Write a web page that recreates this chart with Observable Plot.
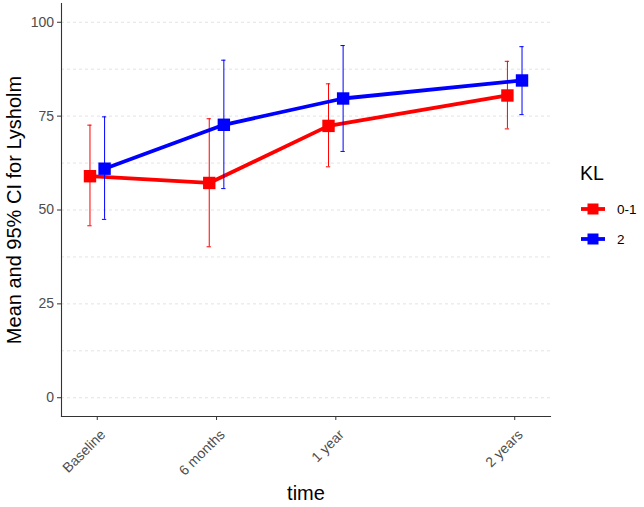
<!DOCTYPE html>
<html><head><meta charset="utf-8">
<script src="https://cdn.jsdelivr.net/npm/d3@7"></script>
<script src="https://cdn.jsdelivr.net/npm/@observablehq/plot@0.6"></script>
<style>
body{margin:0;background:#fff;font-family:"Liberation Sans",Arial,sans-serif;}
#wrap{position:relative;width:644px;height:507px;}
#legend{position:absolute;left:580px;top:162px;color:#000;}
#legend .title{font-size:19.5px;margin-bottom:9px;}
#legend .item{display:flex;align-items:center;height:30px;font-size:13.5px;}
#legend .item svg{margin-right:11px;}
</style></head><body>
<div id="wrap"><div id="chart"></div><div id="legend"></div></div>
<script>
const timeLabels = ["Baseline", "6 months", "1 year", "2 years"];
const timeIndex = [0, 1, 2, 3.5];
const groups = ["0-1", "2"];
const colors = ["#FF0000", "#0000FF"];
const mean01 = [59.0, 57.2, 72.4, 80.5];
const lo01 = [45.8, 40.2, 61.5, 71.6];
const hi01 = [72.6, 74.3, 83.6, 89.6];
const mean2 = [61.0, 72.7, 79.7, 84.5];
const lo2 = [47.5, 55.7, 65.6, 75.4];
const hi2 = [74.8, 89.9, 93.8, 93.5];
const yTicks = [0, 25, 50, 75, 100];
const yGrid = [0, 12.5, 25, 37.5, 50, 62.5, 75, 87.5, 100];

const series = [
  {key: groups[0], color: colors[0], mean: mean01, lo: lo01, hi: hi01, dx: -7.3},
  {key: groups[1], color: colors[1], mean: mean2, lo: lo2, hi: hi2, dx: 7.3}
];
const cap = 0.018;

const marks = [
  Plot.gridY(yGrid, {stroke: "#dcdcdc", strokeOpacity: 1, strokeDasharray: "3,3", strokeWidth: 0.8})
];
for (const s of series) {
  const rows = timeIndex.map((t, i) => ({t, label: timeLabels[i], mean: s.mean[i], lo: s.lo[i], hi: s.hi[i]}));
  marks.push(
    Plot.line(rows, {x: "t", y: "mean", stroke: s.color, strokeWidth: 3.8, dx: s.dx}),
    Plot.ruleX(rows, {x: "t", y1: "lo", y2: "hi", stroke: s.color, strokeWidth: 1, dx: s.dx}),
    Plot.ruleY(rows, {y: "hi", x1: d => d.t - cap, x2: d => d.t + cap, stroke: s.color, strokeWidth: 1, dx: s.dx}),
    Plot.ruleY(rows, {y: "lo", x1: d => d.t - cap, x2: d => d.t + cap, stroke: s.color, strokeWidth: 1, dx: s.dx}),
    Plot.dot(rows, {x: "t", y: "mean", symbol: "square", r: 7, fill: s.color, stroke: "none", dx: s.dx})
  );
}
marks.push(
  Plot.axisY(yTicks, {tickSize: 4, tickFormat: () => "", stroke: "#333", label: null}),
  Plot.axisX(timeIndex, {tickSize: 4, tickFormat: () => "", stroke: "#333", label: null}),
  Plot.text(yTicks, {y: d => d, text: d => String(d), frameAnchor: "left", textAnchor: "end", dx: -7.5, fontSize: 14, fill: "#4d4d4d"}),
  Plot.text(timeIndex, {x: d => d, text: d => timeLabels[timeIndex.indexOf(d)], frameAnchor: "bottom", textAnchor: "end", lineAnchor: "top", rotate: -45, dx: 2, dy: 12, fontSize: 14, fill: "#4d4d4d"}),
  Plot.frame({anchor: "left", stroke: "#333", strokeWidth: 1.1}),
  Plot.frame({anchor: "bottom", stroke: "#333", strokeWidth: 1.1}),
  Plot.text(["time"], {text: d => d, frameAnchor: "bottom", textAnchor: "middle", dy: 83, fontSize: 20, fill: "#000"}),
  Plot.text(["Mean and 95% CI for Lysholm"], {text: d => d, frameAnchor: "left", textAnchor: "middle", rotate: -90, dx: -47, fontSize: 20, fill: "#000"})
);

const chart = Plot.plot({
  width: 644,
  height: 507,
  marginLeft: 61,
  marginRight: 94,
  marginTop: 3,
  marginBottom: 91,
  style: {fontFamily: '"Liberation Sans", Arial, sans-serif', background: "#fff"},
  x: {domain: [-0.3, 3.8], axis: null},
  y: {domain: [-5, 105], axis: null},
  marks
});
document.getElementById("chart").appendChild(chart);

const legend = document.getElementById("legend");
legend.innerHTML = `<div class="title">KL</div>` + series.map(s =>
  `<div class="item"><svg width="26" height="16"><line x1="1" x2="25" y1="8" y2="8" stroke="${s.color}" stroke-width="3.8"/><rect x="7.5" y="2.5" width="11" height="11" fill="${s.color}"/></svg><span>${s.key}</span></div>`
).join("");
</script>
</body></html>
